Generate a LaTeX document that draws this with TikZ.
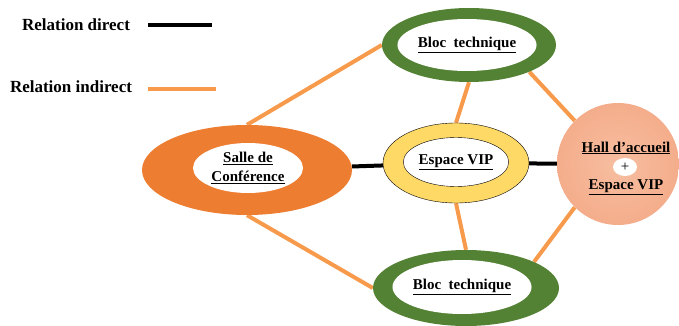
\documentclass[tikz,border=0pt]{standalone}
\usepackage{fontspec}
\setmainfont{Liberation Serif}
\usetikzlibrary{shapes.geometric,backgrounds}
\definecolor{blocgreen}{HTML}{548235}
\definecolor{salleorange}{HTML}{ED7D31}
\definecolor{vipyellow}{HTML}{FFD966}
\definecolor{lienorange}{HTML}{F79A4C}
\definecolor{hallin}{HTML}{F7BEA1}
\definecolor{hallout}{HTML}{F4AD8B}
\newcommand{\etiq}[1]{\underline{\textbf{#1}}}

\begin{document}
\begin{tikzpicture}[x=1pt,y=-1pt,
		anneau/.style={ellipse,inner sep=0pt},
		trou/.style={ellipse,inner sep=0pt,fill=white,align=center,
			font=\fontsize{15}{19}\selectfont},
		direct/.style={line width=4pt,black},
		indirect/.style={line width=4pt,lienorange}]
	\useasboundingbox (0,0) rectangle (679,326);
	
	% legende
	\node[font=\fontsize{17}{18}\selectfont\bfseries] (ld) at (76,25) {Relation direct};
	\node[font=\fontsize{17}{18}\selectfont\bfseries] (li) at (71,87) {Relation indirect};
	\coordinate (d1) at (148,25);
	\coordinate (d2) at (212,25);
	\coordinate (i1) at (148,89);
	\coordinate (i2) at (216,89);
	\draw[direct] (d1) -- (d2);
	\draw[indirect] (i1) -- (i2);
	
	% anneaux
	\node[anneau,fill=blocgreen,minimum width=174pt,minimum height=74pt] (bh) at (469,45) {};
	\node[trou,minimum width=120pt,minimum height=52pt] (bht) at (467,45) {\etiq{Bloc\ \ technique}};
	
	\node[anneau,fill=blocgreen,minimum width=186pt,minimum height=76pt] (bb) at (466,288) {};
	\node[trou,minimum width=116pt,minimum height=54pt] (bbt) at (462,287) {\etiq{Bloc\ \ technique}};
	
	\node[anneau,fill=salleorange,minimum width=210pt,minimum height=90pt] (sc) at (247,170) {};
	\node[trou,minimum width=110pt,minimum height=50pt] (sct) at (248,168) {\etiq{Salle de}\\\etiq{Conférence}};
	
	\node[anneau,fill=vipyellow,draw=black,thin,minimum width=146pt,minimum height=80pt] (vip) at (456,163) {};
	\node[trou,draw=black,thin,minimum width=90pt,minimum height=49pt] (vipt) at (456,162) {\etiq{Espace VIP}};
	
	\node[circle,inner sep=0pt,minimum size=122pt,inner color=hallin,outer color=hallout] (hall) at (618,164) {};
	\node[font=\fontsize{15}{16}\selectfont] (h1) at (626,148) {\etiq{Hall d’accueil}};
	\node[ellipse,fill=white,inner sep=0pt,minimum width=24pt,minimum height=18pt] (plus) at (625,167) {\fontsize{15}{16}\selectfont +};
	\node[font=\fontsize{15}{16}\selectfont] (h2) at (626,187) {\etiq{Espace VIP}};
	
	\begin{scope}[on background layer]
		\foreach \from/\to in {sc.north/bh.west,sc.south/bb.west,vip.north/bh.south,vip.south/bb.north,bh.-24/hall.135,bb.21/hall.225}
		\draw[indirect] (\from) -- (\to);
		\foreach \from/\to in {sc/vip,vip/hall}
		\draw[direct] (\from) -- (\to);
	\end{scope}
\end{tikzpicture}
\end{document}
